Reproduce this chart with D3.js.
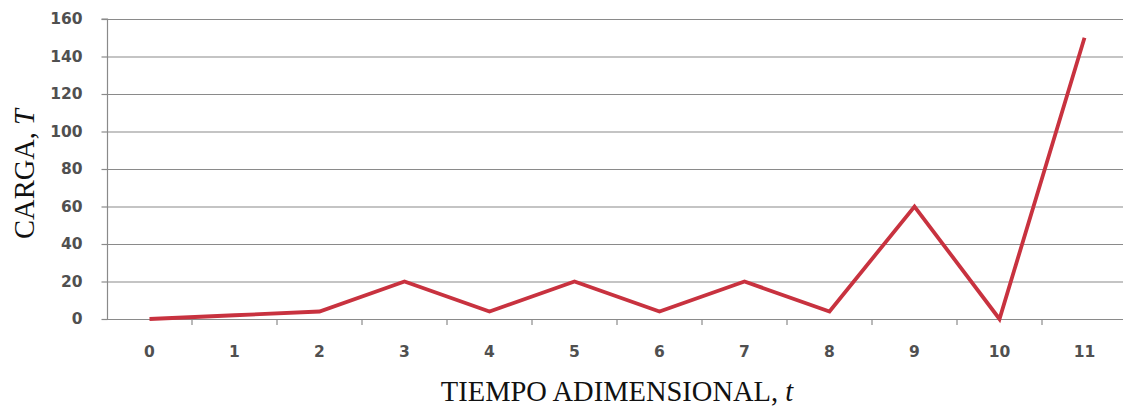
<!DOCTYPE html>
<html><head><meta charset="utf-8">
<script src="https://cdn.jsdelivr.net/npm/d3@7"></script>
<style>body{margin:0;background:#fff}svg{display:block}</style>
</head><body>
<svg id="c" width="1123" height="407"></svg>
<script>
const categories = ["0","1","2","3","4","5","6","7","8","9","10","11"];
const values = [0, 2, 4, 20, 4, 20, 4, 20, 4, 60, 0, 150];
const yTicks = [0,20,40,60,80,100,120,140,160];
const xTitle = "TIEMPO ADIMENSIONAL, ";
const xTitleVar = "t";
const yTitle = "CARGA, ";
const yTitleVar = "T";

(function(){
const svg = d3.select("#c");
const mLeft = 107, mTop = 19, mBottom = 319, band = 85;
const x = d3.scaleBand().domain(categories).range([mLeft, mLeft + band*categories.length]).paddingInner(0).paddingOuter(0);
const y = d3.scaleLinear().domain([0,160]).range([mBottom, mTop]);
const tickFont = "'DejaVu Sans', sans-serif";

// gridlines
svg.append("g").selectAll("line").data(yTicks.filter(d=>d>0)).join("line")
  .attr("x1", mLeft).attr("x2", 1123).attr("y1", d=>y(d)+0.5).attr("y2", d=>y(d)+0.5)
  .attr("stroke","#8a8a8a").attr("stroke-width",1.2);

// y axis
const ya = svg.append("g").attr("transform",`translate(${mLeft+0.5},0)`)
  .call(d3.axisLeft(y).tickValues(yTicks).tickSize(6).tickPadding(19));
ya.select(".domain").attr("stroke","#8a8a8a").attr("stroke-width",1.2).attr("d",`M-6,${mTop}H0V${mBottom}`);
ya.selectAll(".tick line").attr("stroke","#8a8a8a").attr("stroke-width",1.2);
ya.selectAll("text").attr("font-family",tickFont).attr("font-size",15.5).attr("font-weight","bold").attr("fill","#505050");

// x axis
const xa = svg.append("g").attr("transform",`translate(0,${mBottom+0.5})`)
  .call(d3.axisBottom(x).tickSize(0).tickPadding(26));
xa.select(".domain").remove();
xa.selectAll("text").attr("font-family",tickFont).attr("font-size",15.5).attr("font-weight","bold").attr("fill","#505050");
svg.append("line").attr("x1",mLeft).attr("x2",1123).attr("y1",mBottom+0.5).attr("y2",mBottom+0.5).attr("stroke","#8a8a8a").attr("stroke-width",1.2);
svg.append("g").selectAll("line").data(categories.slice(1)).join("line")
  .attr("x1",d=>x(d)).attr("x2",d=>x(d)).attr("y1",mBottom).attr("y2",mBottom+6)
  .attr("stroke","#8a8a8a").attr("stroke-width",1.2);

// line
const line = d3.line().x((d,i)=>x(categories[i])+x.bandwidth()/2).y(d=>y(d));
svg.append("path").datum(values).attr("d",line).attr("fill","none")
  .attr("stroke","#c8323f").attr("stroke-width",3.8).attr("stroke-linejoin","miter");

// titles
const xt = svg.append("text").attr("x",617).attr("y",401).attr("text-anchor","middle")
  .attr("font-family","'Liberation Serif', serif").attr("font-size",28.5).attr("fill","#111");
xt.append("tspan").text(xTitle);
xt.append("tspan").attr("font-style","italic").text(xTitleVar);
const yt = svg.append("text").attr("transform","translate(34,174) rotate(-90)").attr("text-anchor","middle")
  .attr("font-family","'Liberation Serif', serif").attr("font-size",28.5).attr("fill","#111");
yt.append("tspan").text(yTitle);
yt.append("tspan").attr("font-style","italic").text(yTitleVar);
})();
</script>
</body></html>
